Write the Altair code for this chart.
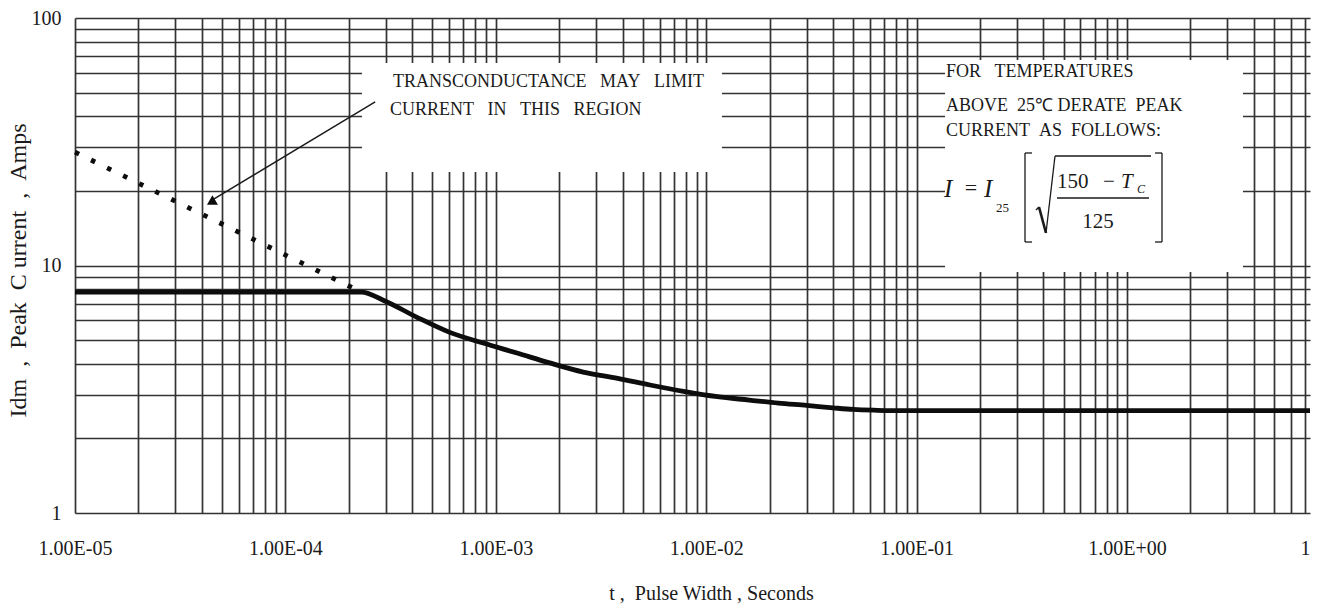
import altair as alt
import pandas as pd

# ---------------------------------------------------------------
# Data: maximum peak drain current vs. pulse width (log-log)
# ---------------------------------------------------------------
pulse_width = [1e-5, 2.3e-4, 2.9e-4, 4.2e-4, 6.0e-4, 8.7e-4, 1.26e-3, 1.8e-3,
               2.6e-3, 3.8e-3, 5.4e-3, 7.8e-3, 1.13e-2, 1.6e-2, 2.2e-2,
               3.0e-2, 4.0e-2, 5.0e-2, 6.5e-2, 8.5e-2, 7.4]
peak_current = [7.8, 7.8, 7.26, 6.19, 5.38, 4.86, 4.43, 4.04,
                3.71, 3.50, 3.29, 3.10, 2.95, 2.86, 2.78,
                2.72, 2.66, 2.62, 2.60, 2.59, 2.59]

# transconductance-limited extension (dotted)
gm_width = [1e-5, 2.3e-4]
gm_current = [28.7, 7.8]

# arrow from the note to the dotted line
arrow_from = (2.67e-4, 45.8)
arrow_to = (4.5e-5, 18.4)

# axes
x_domain = [1e-5, 7.4]
y_domain = [1, 100]
x_grid = [m * 10.0 ** e for e in range(-5, 1) for m in range(1, 10)] + [2.0, 3.0, 4.0, 5.0, 6.0, 7.0]
y_grid = [m * 10.0 ** e for e in range(0, 2) for m in range(1, 10)] + [100.0]
x_tick_values = [1e-5, 1e-4, 1e-3, 1e-2, 1e-1, 1.0, 7.0]
x_tick_labels = ["1.00E-05", "1.00E-04", "1.00E-03", "1.00E-02", "1.00E-01", "1.00E+00", "1"]
y_tick_values = [1.0, 10.0, 100.0]
y_tick_labels = ["1", "10", "100"]

SERIF = "Liberation Serif"
INK = "#1a1a1a"
NB = "\u00a0"


def label_expr(values, labels):
    expr = "''"
    for v, lab in reversed(list(zip(values, labels))):
        expr = f"abs(datum.value - {v!r}) < {v * 1e-3!r} ? '{lab}' : " + expr
    return expr


W, H = 1235, 495

xs = alt.Scale(type="log", domain=x_domain, nice=False, zero=False)
ys = alt.Scale(type="log", domain=y_domain, nice=False, zero=False)

x_axis = alt.Axis(
    values=x_grid, labelExpr=label_expr(x_tick_values, x_tick_labels),
    grid=True, gridColor="#333333", gridWidth=1.7, domain=False, ticks=False, tickSize=0,
    labelFont=SERIF, labelFontSize=20, labelColor=INK, labelPadding=25,
    labelOverlap=False, labelFlush=False, labelBound=False,
    title=f"t{NB},{NB}{NB}Pulse Width , Seconds", titleFont=SERIF, titleFontSize=20,
    titleFontWeight="normal", titleColor=INK, titleX=636, titleY=70,
    titleAlign="center", titleBaseline="top",
)
gap = NB * 2
y_axis = alt.Axis(
    values=y_grid, labelExpr=label_expr(y_tick_values, y_tick_labels),
    grid=True, gridColor="#333333", gridWidth=1.7, domain=False, ticks=False, tickSize=0,
    labelFont=SERIF, labelFontSize=20, labelColor=INK, labelPadding=14,
    labelOverlap=False, labelBound=False,
    title=f"Idm{gap},{gap}Peak{NB}{NB}C{NB}urrent{gap},{gap}Amps", titleFont=SERIF, titleFontSize=24,
    titleFontWeight="normal", titleColor=INK, titleX=-57, titleY=252,
    titleAlign="center", titleBaseline="middle", titleAngle=270,
)

curve_df = pd.DataFrame({"t": pulse_width, "i": peak_current})
gm_df = pd.DataFrame({"t": gm_width, "i": gm_current})
arrow_df = pd.DataFrame({"t": [arrow_from[0]], "i": [arrow_from[1]],
                         "t2": [arrow_to[0]], "i2": [arrow_to[1]]})
tip_df = pd.DataFrame({"t": [arrow_to[0]], "i": [arrow_to[1]]})
one = pd.DataFrame({"k": [0]})

base = alt.Chart(curve_df)

# the axes come from the main curve layer
curve = base.mark_line(color="#0d0d0d", strokeWidth=4.8, interpolate="monotone", clip=True).encode(
    x=alt.X("t:Q", scale=xs, axis=x_axis),
    y=alt.Y("i:Q", scale=ys, axis=y_axis),
)

dotted = alt.Chart(gm_df).mark_line(color="#0d0d0d", strokeWidth=4.8, strokeDash=[4.5, 13.36],
                                    strokeCap="butt").encode(
    x=alt.X("t:Q", scale=xs), y=alt.Y("i:Q", scale=ys))


# white note panels sitting over the grid
def panel(x0, x1, y0, y1):
    return alt.Chart(one).mark_rect(color="white").encode(
        x=alt.value(x0), x2=alt.value(x1), y=alt.value(y0), y2=alt.value(y1))


def note(text, x, y, size=18, style="normal", align="left"):
    return alt.Chart(one).mark_text(
        text=text, align=align, baseline="middle", font=SERIF, fontSize=size,
        fontStyle=style, color=INK).encode(x=alt.value(x), y=alt.value(y))


def stroke(x0, y0, x1, y1, w=1.3):
    return alt.Chart(one).mark_rule(color=INK, strokeWidth=w).encode(
        x=alt.value(x0), x2=alt.value(x1), y=alt.value(y0), y2=alt.value(y1))


panels = [panel(287, 647, 45, 154), panel(870, 1168, 42, 254)]

gap3 = NB * 3
notes = [
    note(f"TRANSCONDUCTANCE{gap3}MAY{gap3}LIMIT", 318, 64),
    note(f"CURRENT{gap3}IN{gap3}THIS{gap3}REGION", 315, 92),
    note(f"FOR{gap3}TEMPERATURES", 871, 54),
    note(f"ABOVE{NB}{NB}25℃ DERATE{NB}{NB}PEAK", 871, 88),
    note(f"CURRENT{NB}{NB}AS{NB}{NB}FOLLOWS:", 871, 113),
]

# derating formula  I = I25 [ sqrt((150 - Tc) / 125) ]
formula = [
    note("I", 869, 171, size=25, style="italic"),
    note("=", 896, 170, size=22, align="center"),
    note("I", 909, 171, size=25, style="italic"),
    note("25", 921, 190, size=13),
    note("150", 982, 164, size=21),
    note("\u2212", 1034, 164, size=21, align="center"),
    note("T", 1046, 164, size=21, style="italic"),
    note("C", 1062, 171, size=12, style="italic"),
    note("125", 1023, 204, size=21, align="center"),
    stroke(982, 180, 1074, 180, 1.4),
    # left bracket
    stroke(950, 135, 950, 224), stroke(950, 135, 957, 135), stroke(950, 224, 957, 224),
    # right bracket
    stroke(1087, 135, 1087, 224), stroke(1080, 135, 1087, 135), stroke(1080, 224, 1087, 224),
    # radical sign
    stroke(961, 192, 964, 189, 1.4), stroke(964, 189, 971, 215, 2.6),
    stroke(971, 215, 980, 138, 1.3), stroke(980, 138, 1076, 138, 1.3),
]

arrow = alt.Chart(arrow_df).mark_rule(color=INK, strokeWidth=1.5).encode(
    x=alt.X("t:Q", scale=xs), x2="t2:Q", y=alt.Y("i:Q", scale=ys), y2="i2:Q")
tip = alt.Chart(tip_df).mark_point(shape="triangle-up", filled=True, size=120, color="#0d0d0d",
                                   opacity=1).encode(
    x=alt.X("t:Q", scale=xs), y=alt.Y("i:Q", scale=ys))

chart = alt.layer(
    curve, dotted, *panels, arrow, tip, *notes, *formula
).properties(
    width=W, height=H,
    autosize=alt.AutoSizeParams(type="none"),
    padding={"left": 75, "top": 18, "right": 9, "bottom": 97},
    background="white",
).configure_view(stroke=None)

chart.save("out.html", embed_options={"renderer": "svg", "actions": False})
